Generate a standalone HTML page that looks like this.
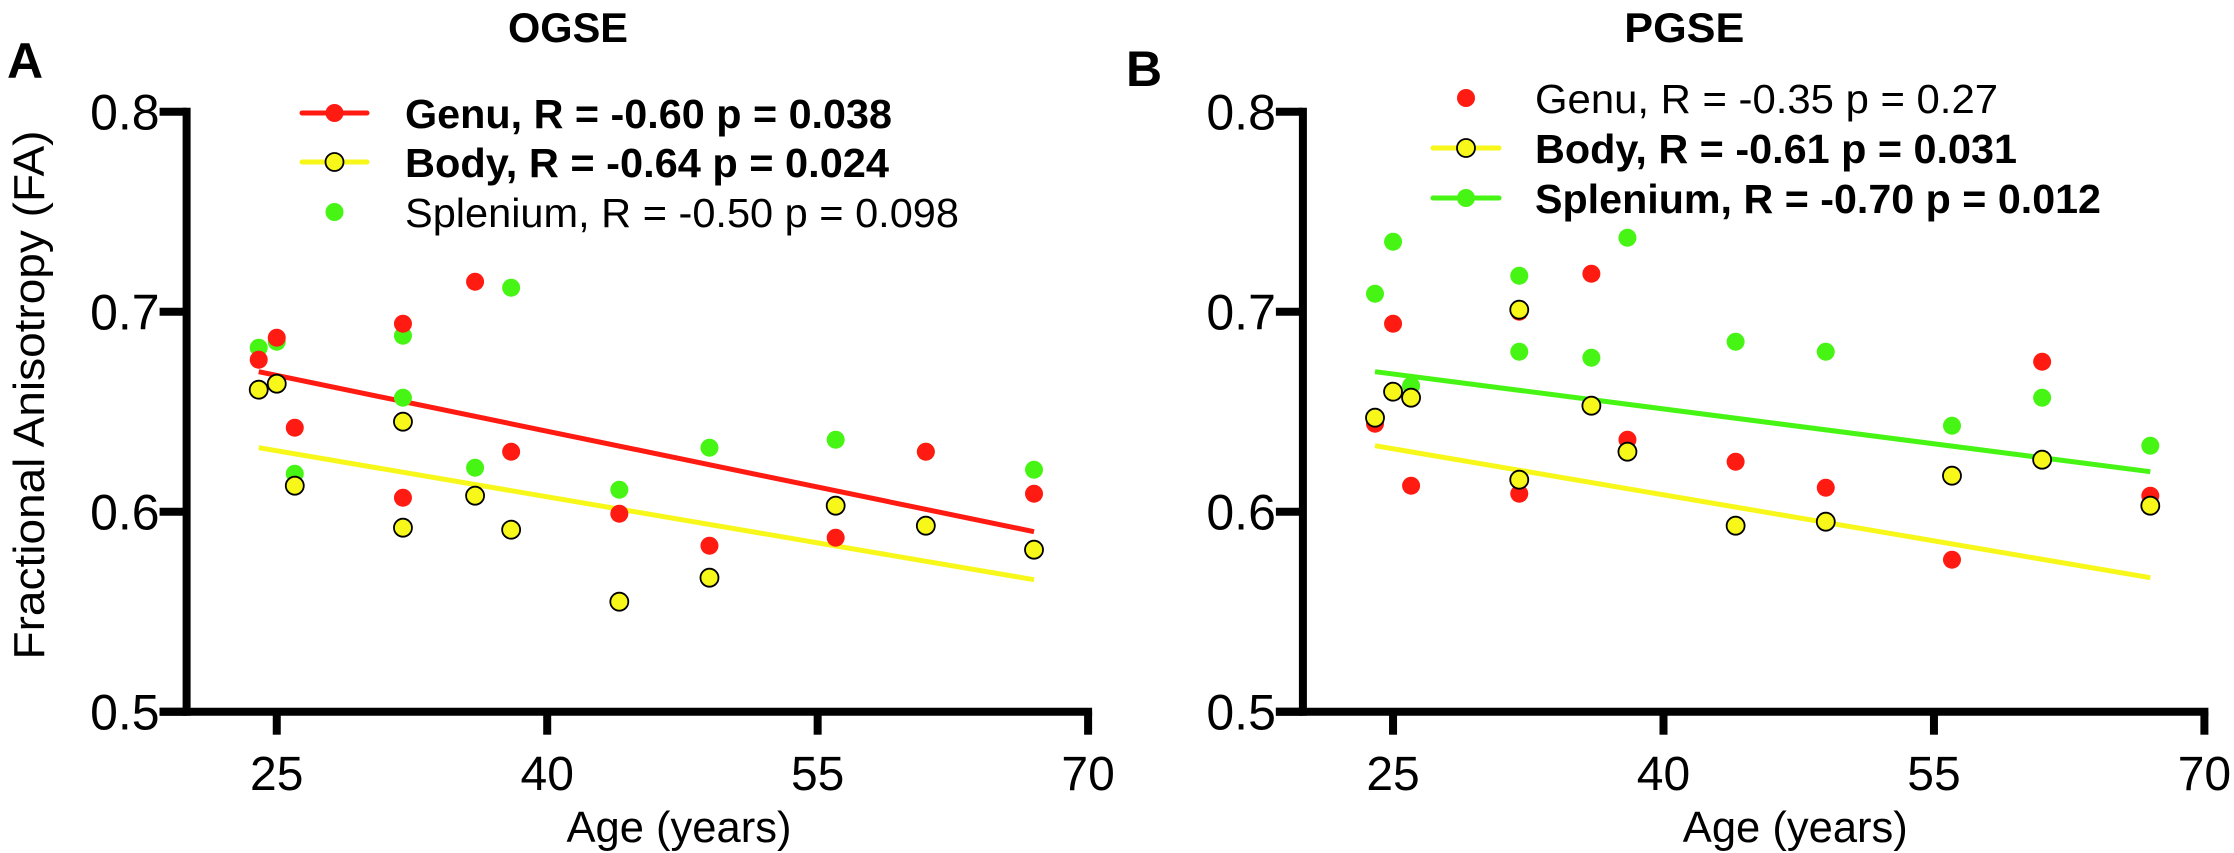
<!DOCTYPE html>
<html><head><meta charset="utf-8"><style>
html,body{margin:0;padding:0;background:#fff;}
svg{display:block;font-family:"Liberation Sans",Arial,sans-serif;}
</style></head><body>
<svg id="chart" width="2234" height="853" viewBox="0 0 2234 853" xmlns="http://www.w3.org/2000/svg"></svg>
<script>
const ages = [24,25,26,32,32,36,38,44,49,56,61,67];
const ogseGenu = [0.676,0.687,0.642,0.694,0.607,0.715,0.630,0.599,0.583,0.587,0.630,0.609];
const ogseBody = [0.661,0.664,0.613,0.645,0.592,0.608,0.591,0.555,0.567,0.603,0.593,0.581];
const ogseSplenium = [0.682,0.685,0.619,0.688,0.657,0.622,0.712,0.611,0.632,0.636,0.630,0.621];
const pgseGenu = [0.644,0.694,0.613,0.700,0.609,0.719,0.636,0.625,0.612,0.576,0.675,0.608];
const pgseBody = [0.647,0.660,0.657,0.701,0.616,0.653,0.630,0.593,0.595,0.618,0.626,0.603];
const pgseSplenium = [0.709,0.735,0.663,0.718,0.680,0.677,0.737,0.685,0.680,0.643,0.657,0.633];
// fitted regression line endpoints as printed in the figure (FA at age 24 and at age 67)
const fitAges = [24,67];
const ogseGenuFit = [0.670,0.590];
const ogseBodyFit = [0.632,0.566];
const pgseBodyFit = [0.633,0.567];
const pgseSpleniumFit = [0.670,0.620];
const xTicks = [25,40,55,70];
const yTicks = [0.5,0.6,0.7,0.8];
const yTickLabels = ["0.5","0.6","0.7","0.8"];

const NS="http://www.w3.org/2000/svg";
const svg=document.getElementById('chart');
const RED="#ff1a12", YEL="#f7f71a", GRN="#47f514";
function mk(tag,attrs,parent){const e=document.createElementNS(NS,tag);for(const k in attrs)e.setAttribute(k,attrs[k]);(parent||svg).appendChild(e);return e;}
function txt(s,attrs,parent){const e=mk('text',attrs,parent);e.textContent=s;return e;}

function panel(off,key,title,series,drawOrder,legend){
  const g=mk('g',{});
  
  
  const X=a=>off+186.6+(a-20)*18.03;
  const Y=v=>711.7-(v-0.5)*2000;
  const ya=mk('line',{x1:X(20),y1:Y(0.8)-4,x2:X(20),y2:Y(0.5)+4,stroke:'#000','stroke-width':8},g);
  
  
  const xa=mk('line',{x1:X(20)-27,y1:Y(0.5),x2:X(70)+4,y2:Y(0.5),stroke:'#000','stroke-width':8},g);
  
  
  yTicks.forEach((v,i)=>{
    mk('line',{x1:X(20)-27,y1:Y(v),x2:X(20),y2:Y(v),stroke:'#000','stroke-width':8},g);
    const t=txt(yTickLabels[i],{x:X(20)-27,y:Y(v)+18,'text-anchor':'end','font-size':50},g);
    
    
  });
  xTicks.forEach(a=>{
    mk('line',{x1:X(a),y1:Y(0.5),x2:X(a),y2:Y(0.5)+23,stroke:'#000','stroke-width':8},g);
    const t=txt(String(a),{x:X(a),y:790,'text-anchor':'middle','font-size':48},g);
    
    
  });
  const xt=txt('Age (years)',{x:off+679,y:842,'text-anchor':'middle','font-size':44,textLength:225,lengthAdjust:'spacingAndGlyphs'},g);
  
  
  const tt=txt(title,{x:off+568,y:42,'text-anchor':'middle','font-size':42,'font-weight':'bold',textLength:120,lengthAdjust:'spacingAndGlyphs'},g);
  
  
  series.forEach(s=>{
    if(!s.fit)return;
    const l=mk('line',{x1:X(fitAges[0]),y1:Y(s.fit[0]),x2:X(fitAges[1]),y2:Y(s.fit[1]),stroke:s.color,'stroke-width':5},g);
    
    
  });
  drawOrder.forEach(idx=>{
    const s=series[idx];
    s.vals.forEach((v,i)=>{
      const c=mk('circle',{cx:X(ages[i]),cy:Y(v),r:9,fill:s.color,stroke:s.outline?'#000':'none','stroke-width':1.8},g);
      
      
    });
  });
  legend.forEach((L,i)=>{
    const s=series[i];
    const lg=mk('g',{},g);
    
    
    if(s.fit) mk('line',{x1:L.lx1,y1:L.y,x2:L.lx2,y2:L.y,stroke:s.color,'stroke-width':5,'stroke-linecap':'round'},lg);
    mk('circle',{cx:(L.lx1+L.lx2)/2,cy:L.y,r:9,fill:s.color,stroke:s.outline?'#000':'none','stroke-width':1.8},lg);
    txt(L.text,{x:L.tx,y:L.y+15,'font-size':41,'font-weight':L.bold?'bold':'normal',textLength:L.tw,lengthAdjust:'spacingAndGlyphs'},lg);
  });
}

panel(0,'ogse','OGSE',[
  {name:'genu',vals:ogseGenu,color:RED,fit:ogseGenuFit},
  {name:'body',vals:ogseBody,color:YEL,fit:ogseBodyFit,outline:true},
  {name:'splenium',vals:ogseSplenium,color:GRN,fit:null}
],[2,0,1],[
  {y:113,lx1:302,lx2:367,tx:405,tw:487,text:'Genu, R = -0.60 p = 0.038',bold:true},
  {y:162,lx1:302,lx2:367,tx:405,tw:484,text:'Body, R = -0.64 p = 0.024',bold:true},
  {y:212,lx1:302,lx2:367,tx:405,tw:554,text:'Splenium, R = -0.50 p = 0.098',bold:false}
]);
panel(1116.3,'pgse','PGSE',[
  {name:'genu',vals:pgseGenu,color:RED,fit:null},
  {name:'body',vals:pgseBody,color:YEL,fit:pgseBodyFit,outline:true},
  {name:'splenium',vals:pgseSplenium,color:GRN,fit:pgseSpleniumFit}
],[2,0,1],[
  {y:98,lx1:1433,lx2:1499,tx:1535,tw:463,text:'Genu, R = -0.35 p = 0.27',bold:false},
  {y:148,lx1:1433,lx2:1499,tx:1535,tw:482,text:'Body, R = -0.61 p = 0.031',bold:true},
  {y:198,lx1:1433,lx2:1499,tx:1535,tw:566,text:'Splenium, R = -0.70 p = 0.012',bold:true}
]);

const la=txt('A',{x:7,y:78,'font-size':50,'font-weight':'bold'});


const lb=txt('B',{x:1126,y:86,'font-size':50,'font-weight':'bold'});


const yt=txt('Fractional Anisotropy (FA)',{x:0,y:0,'text-anchor':'middle','font-size':44,textLength:529,lengthAdjust:'spacingAndGlyphs',transform:'translate(44,395) rotate(-90)'});


</script>
</body></html>
